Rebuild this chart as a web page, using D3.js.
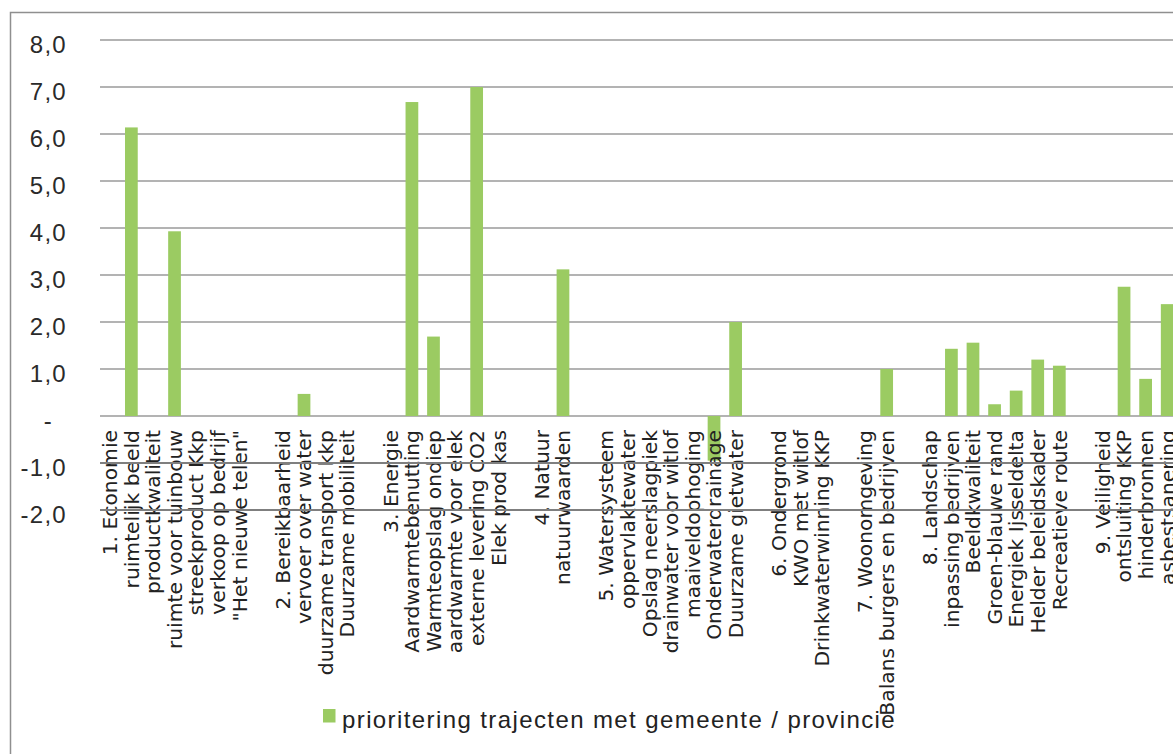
<!DOCTYPE html>
<html>
<head>
<meta charset="utf-8">
<script src="https://cdn.jsdelivr.net/npm/d3@7"></script>
<style>
  html, body { margin: 0; padding: 0; background: #fff; }
  svg { display: block; }
</style>
</head>
<body>
<svg id="chart" width="1173" height="754"></svg>
<script>
// ---- data ----
const categories = [
  "1. Economie", "ruimtelijk beeld", "productkwaliteit", "ruimte voor tuinbouw",
  "streekproduct Kkp", "verkoop op bedrijf", "\"Het nieuwe telen\"", " ",
  "2. Bereikbaarheid", "vervoer over water", "duurzame transport kkp", "Duurzame mobiliteit", "  ",
  "3. Energie", "Aardwarmtebenutting", "Warmteopslag ondiep", "aardwarmte voor elek",
  "externe levering CO2", "Elek prod kas", "   ",
  "4. Natuur", "natuurwaarden", "    ",
  "5. Watersysteem", "oppervlaktewater", "Opslag neerslagpiek", "drainwater voor witlof",
  "maaiveldophoging", "Onderwaterdrainage", "Duurzame gietwater", "     ",
  "6. Ondergrond", "KWO met witlof", "Drinkwaterwinning  KKP", "      ",
  "7. Woonomgeving", "Balans burgers en bedrijven", "       ",
  "8. Landschap", "inpassing bedrijven", "Beeldkwaliteit", "Groen-blauwe rand",
  "Energiek Ijsseldelta", "Helder beleidskader", "Recreatieve route", "        ",
  "9. Veiligheid", "ontsluiting KKP", "hinderbronnen", "asbestsanering"
];
const values = [
  null, 6.14, null, 3.93, null, null, null, null,
  null, 0.47, null, null, null,
  null, 6.68, 1.69, null, 7.0, null, null,
  null, 3.12, null,
  null, null, null, null, null, -0.95, 2.0, null,
  null, null, null, null,
  null, 1.0, null,
  null, 1.43, 1.56, 0.25, 0.54, 1.2, 1.07, null,
  null, 2.75, 0.79, 2.38
];
const yTicks = [-2, -1, 0, 1, 2, 3, 4, 5, 6, 7, 8];
const seriesName = "prioritering trajecten met gemeente / provincie";

// ---- layout ----
const svg = d3.select("#chart");
const W = 1173;
const plotLeft = 99;
const step = 21.58;
const barColor = "#9bcb62";
const gridColor = "#9a9a9a";

const x = d3.scaleBand()
  .domain(categories)
  .range([plotLeft, plotLeft + step * categories.length])
  .paddingInner(0.41)
  .paddingOuter(0.205);

const y = d3.scaleLinear().domain([-2, 8]).range([510, 40]);

// chart border
svg.append("rect")
  .attr("x", 10.5).attr("y", 12.5)
  .attr("width", W + 20).attr("height", 800)
  .attr("fill", "none").attr("stroke", "#8f8f8f").attr("stroke-width", 1.5);

// gridlines for positive values + zero (under bars)
const gridG = svg.append("g");
gridG.selectAll("line").data(yTicks.filter(d => d >= 0)).join("line")
  .attr("x1", plotLeft + 1).attr("x2", W)
  .attr("y1", d => y(d)).attr("y2", d => y(d))
  .attr("stroke", gridColor).attr("stroke-width", 1.6);

// bars
svg.append("g").selectAll("rect")
  .data(categories.map((c, i) => ({c, v: values[i]})).filter(d => d.v !== null))
  .join("rect")
  .attr("x", d => x(d.c))
  .attr("width", x.bandwidth())
  .attr("y", d => y(Math.max(0, d.v)))
  .attr("height", d => Math.abs(y(d.v) - y(0)))
  .attr("fill", barColor);

// y tick labels
const fmt = d => d === 0 ? "-" : d.toFixed(1).replace(".", ",");
const yAxis = d3.axisLeft(y).tickValues(yTicks).tickFormat(fmt).tickSize(0).tickPadding(0);
const yg = svg.append("g").attr("transform", "translate(67,0)").call(yAxis);
yg.select(".domain").remove();
yg.selectAll("text")
  .attr("font-family", "'Liberation Sans', Arial, sans-serif")
  .attr("font-size", 24)
  .attr("letter-spacing", "1.3px")
  .attr("fill", "#2a2a2a")
  .attr("dy", "0.52em")
  .attr("x", d => d === 0 ? -14 : 0);

// category labels (rotated)
const xAxis = d3.axisBottom(x).tickSize(0).tickPadding(0);
const xg = svg.append("g").attr("transform", `translate(0,${y(0)})`).call(xAxis);
xg.select(".domain").remove();
xg.selectAll("text")
  .attr("font-family", "'DejaVu Sans', Verdana, sans-serif")
  .attr("font-size", 20.3)
  .attr("fill", "#222")
  .attr("text-anchor", "end")
  .attr("transform", "rotate(-90)")
  .attr("x", -14)
  .attr("y", 0)
  .attr("dy", "0.36em");

// gridlines for negative values (drawn over labels, as in the reference)
svg.append("g").selectAll("line").data(yTicks.filter(d => d < 0)).join("line")
  .attr("x1", plotLeft + 1).attr("x2", W)
  .attr("y1", d => y(d)).attr("y2", d => y(d))
  .attr("stroke", "#7f7f7f").attr("stroke-width", 1.8);

// legend
const lg = svg.append("g").attr("transform", "translate(323,709)");
lg.append("rect").attr("width", 12.5).attr("height", 13.5).attr("fill", barColor);
lg.append("text")
  .attr("x", 19).attr("y", 18.5)
  .attr("font-family", "'Liberation Sans', Arial, sans-serif")
  .attr("font-size", 24)
  .attr("letter-spacing", "1.4px")
  .attr("fill", "#222")
  .text(seriesName);
</script>
</body>
</html>
